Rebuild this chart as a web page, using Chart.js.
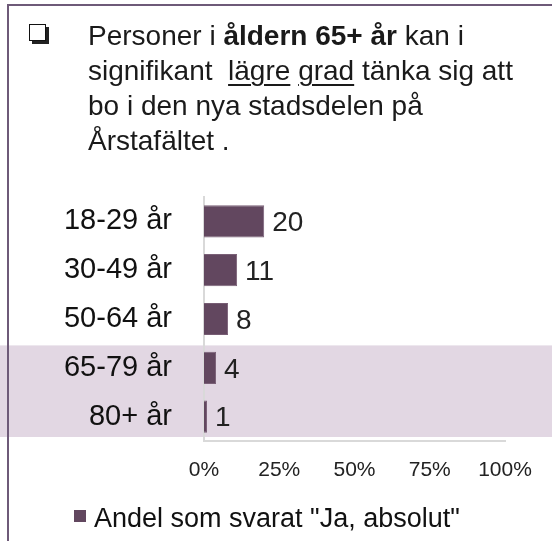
<!DOCTYPE html>
<html>
<head>
<meta charset="utf-8">
<script src="https://cdn.jsdelivr.net/npm/chart.js@4"></script>
<style>
  body { margin: 0; background: #fff; }
  #wrap { position: relative; width: 552px; height: 541px; overflow: hidden; }
  #frame { position: absolute; left: 7px; top: 4px; width: 560px; height: 560px;
           border-left: 2px solid #6e5a78; border-top: 2px solid #6e5a78; z-index: 2; pointer-events: none; }
  #box { position: absolute; left: 29px; top: 24px; width: 15px; height: 15px; background: #fff;
         border: 1.5px solid #111; box-shadow: 3px 3px 0 #222; z-index: 3; }
  #title { position: absolute; left: 88px; top: 18px; font-family: "Liberation Sans", Arial, sans-serif;
           font-size: 28px; line-height: 35px; color: #1a1a1a; z-index: 3; white-space: nowrap; }
  #title u { text-underline-offset: 4px; text-decoration-thickness: 2px; }
  canvas { position: absolute; left: 0; top: 0; }
</style>
</head>
<body>
<div id="wrap">
  <div id="frame"></div>
  <div id="box"></div>
  <div id="title">Personer i <b>åldern 65+ år</b> kan i<br>signifikant&nbsp; <u>lägre</u> <u>grad</u> tänka sig att<br>bo i den nya stadsdelen på<br>Årstafältet .</div>
  <canvas id="chart" width="552" height="541"></canvas>
</div>
<script>
const categories = ["18-29 år", "30-49 år", "50-64 år", "65-79 år", "80+ år"];
const andelJa = [20, 11, 8, 4, 1];
const seriesName = 'Andel som svarat "Ja, absolut"';
const xTicks = [0, 25, 50, 75, 100];
const highlighted = ["65-79 år", "80+ år"];

const barColor = "#62475f";
const font = "'Liberation Sans', Arial, sans-serif";

// band behind the older age groups
const bandPlugin = {
  id: "band",
  beforeDraw(chart) {
    const y = chart.scales.y;
    const idx = highlighted.map((c) => categories.indexOf(c));
    const step = y.getPixelForValue(1) - y.getPixelForValue(0);
    const top = y.getPixelForValue(Math.min(...idx)) - step / 2;
    const bottom = y.getPixelForValue(Math.max(...idx)) + step / 2;
    const ctx = chart.ctx;
    ctx.save();
    ctx.fillStyle = "#e2d7e3";
    ctx.fillRect(0, top + 2, chart.width, bottom - top - 6);
    ctx.restore();
  },
};

// value labels next to each bar + legend
const labelPlugin = {
  id: "labels",
  afterDatasetsDraw(chart) {
    const ctx = chart.ctx;
    const meta = chart.getDatasetMeta(0);
    ctx.save();
    ctx.font = "28px " + font;
    ctx.fillStyle = "#222";
    ctx.textBaseline = "middle";
    meta.data.forEach((bar, i) => {
      ctx.fillText(String(andelJa[i]), bar.x + 8, bar.y + 2);
    });
    // legend
    const lx = chart.chartArea.left - 130;
    const ly = chart.height - 31;
    ctx.fillStyle = barColor;
    ctx.fillRect(lx, ly, 12, 12);
    ctx.font = "27px " + font;
    ctx.fillStyle = "#111";
    ctx.textBaseline = "alphabetic";
    ctx.fillText(chart.data.datasets[0].label, lx + 20, ly + 17);
    ctx.restore();
  },
};

new Chart(document.getElementById("chart"), {
  type: "bar",
  data: {
    labels: categories,
    datasets: [
      {
        label: seriesName,
        data: andelJa,
        backgroundColor: barColor,
        borderColor: "#7a6077",
        borderWidth: 1,
        barPercentage: 0.66,
        categoryPercentage: 1,
      },
    ],
  },
  options: {
    indexAxis: "y",
    responsive: false,
    animation: false,
    layout: { padding: { top: 197, right: 47, left: 0, bottom: 0 } },
    plugins: { legend: { display: false }, tooltip: { enabled: false } },
    scales: {
      x: {
        min: 0,
        max: 100,
        afterBuildTicks: (s) => { s.ticks = xTicks.map((v) => ({ value: v })); },
        afterFit: (s) => { s.height = 100; },
        grid: { display: false, drawTicks: false },
        border: { display: true, color: "#d9d9d9", width: 2 },
        ticks: { callback: (v) => v + "%", color: "#222", font: { family: font, size: 21 }, padding: 17, maxRotation: 0 },
      },
      y: {
        afterFit: (s) => { s.width = 204; },
        grid: { display: false, drawTicks: false },
        border: { display: true, color: "#d9d9d9", width: 2 },
        ticks: { color: "#111", font: { family: font, size: 29 }, padding: 32 },
      },
    },
  },
  plugins: [bandPlugin, labelPlugin],
});
</script>
</body>
</html>
